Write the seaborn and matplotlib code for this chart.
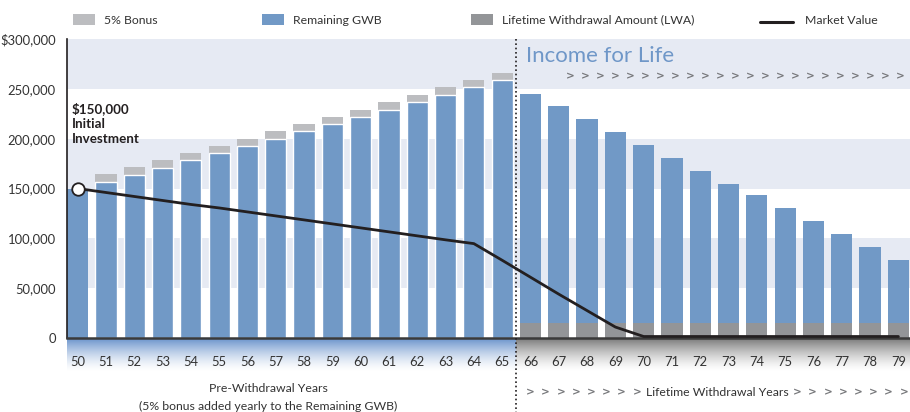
import numpy as np
import pandas as pd
import matplotlib.pyplot as plt
from matplotlib.patches import Rectangle
from matplotlib.lines import Line2D
import seaborn as sns

# values
ages = [50, 51, 52, 53, 54, 55, 56, 57, 58, 59, 60, 61, 62, 63, 64,
        65, 66, 67, 68, 69, 70, 71, 72, 73, 74, 75, 76, 77, 78, 79]
remaining_gwb = [150000, 157000, 164000, 171000, 178500, 185500, 192500, 200000,
                 207500, 214500, 221500, 229000, 236500, 244000, 251500, 258500,
                 245000, 232500, 220000, 207000, 194000, 181000, 168000, 155000,
                 143000, 130000, 117000, 104000, 91000, 78000]
bonus = [0, 7500, 7500, 7500, 7500, 7500, 7500, 7500, 7500, 7500, 7500, 7500, 7500,
         7500, 7500, 7500, 0, 0, 0, 0, 0, 0, 0, 0, 0, 0, 0, 0, 0, 0]
lwa = [0, 0, 0, 0, 0, 0, 0, 0, 0, 0, 0, 0, 0, 0, 0, 0,
       15500, 15500, 15500, 15500, 15500, 15500, 15500, 15500, 15500, 15500,
       15500, 15500, 15500, 15500]
market_value = [150000, 146000, 142000, 138000, 134000, 130500, 126500, 122500,
                 118500, 114500, 110500, 106500, 102500, 98500, 94700, 78000,
                 61000, 44000, 27500, 11000, 1500, 1500, 1500, 1500, 1500, 1500,
                 1500, 1500, 1500, 1500]
ytick_values = [0, 50000, 100000, 150000, 200000, 250000, 300000]
ytick_labels = ['0', '50,000', '100,000', '150,000', '200,000', '250,000', '$300,000']

BLUE = '#7199c6'
BONUS_GRAY = '#bcbdc0'
LWA_GRAY = '#939598'
BAND = '#e6eaf3'
TXT = '#333333'
CHEV = '#77787b'
FS = 8.8

sns.set_style('white')
plt.rcParams['font.family'] = ['Lato', 'DejaVu Sans']

df = pd.DataFrame({'age': [str(a) for a in ages],
                   'gwb': remaining_gwb,
                   'bonus': bonus,
                   'lwa': lwa,
                   'market': market_value})
df['total'] = df['gwb'] + df['bonus']

fig = plt.figure(figsize=(9.1, 4.12), dpi=100)
ax = fig.add_axes([67/910, 1 - 338/412, 843/910, 299/412], zorder=2)

# alternating bands
for lo in [50000, 150000, 250000]:
    ax.axhspan(lo, lo + 50000, color=BAND, lw=0, zorder=0)

sns.barplot(data=df, x='age', y='total', color=BONUS_GRAY, saturation=1,
            width=0.75, errorbar=None, linewidth=0, ax=ax, zorder=2)
sns.barplot(data=df, x='age', y='gwb', color=BLUE, saturation=1,
            width=0.75, errorbar=None, edgecolor='white', linewidth=1, ax=ax, zorder=2)
sns.barplot(data=df, x='age', y='lwa', color=LWA_GRAY, saturation=1,
            width=0.75, errorbar=None, linewidth=0, ax=ax, zorder=2)
# white gap only where a bonus sits on top
for patch, b in zip(ax.containers[1], bonus):
    if b == 0:
        patch.set_linewidth(0)

xpos = np.arange(len(ages))
ax.plot(xpos, df['market'], color='#231f20', lw=2, zorder=4, solid_joinstyle='round')
ax.plot(xpos[:1], df['market'][:1], 'o', ms=9, mfc='white', mec='#231f20', mew=1.3, zorder=5)

ax.set_xlim(-0.375, 29.41)
ax.set_ylim(0, 300000)
ax.set_xlabel('')
ax.set_ylabel('')
ax.set_yticks(ytick_values)
ax.set_yticklabels(ytick_labels, fontsize=9.4, color=TXT)
ax.set_xticks(xpos)
ax.set_xticklabels([str(a) for a in ages], fontsize=9.4, color=TXT)
ax.tick_params(axis='y', length=0, pad=8)
ax.tick_params(axis='x', length=0, pad=13)
for s in ['top', 'right']:
    ax.spines[s].set_visible(False)
ax.spines['left'].set_color('#231f20')
ax.spines['left'].set_linewidth(1.2)
ax.spines['bottom'].set_color('#3a3a3a')
ax.spines['bottom'].set_linewidth(1.8)
ax.spines['bottom'].set_zorder(3)

# dotted divider
ax.plot([15.5, 15.5], [300000, -75000], color='#231f20', lw=1.2,
        ls=(0, (1, 1.6)), clip_on=False, zorder=6)

# gradient strip under the axis
gax = fig.add_axes([67/910, 1 - 372/412, 843/910, 34/412], zorder=1)
h, w = 34, 843
split = 449
t = np.linspace(0, 1, h)[:, None]
fade = (1 - t) ** 1.5
img = np.ones((h, w, 3))
blue_top = np.array([0.42, 0.58, 0.80])
gray_top = np.array([0.48, 0.48, 0.48])
img[:, :split, :] = 1 - fade[:, :, None] * (1 - blue_top)
img[:, split:, :] = 1 - fade[:, :, None] * (1 - gray_top)
gax.imshow(img, aspect='auto', interpolation='bilinear')
gax.set_axis_off()

# annotations
ax.text(-0.22, 237000, '$150,000\nInitial\nInvestment', fontsize=9.6, fontweight='bold',
        color='#231f20', va='top', ha='left', linespacing=1.3, zorder=6)
fig.text(526/910, 1 - 56/412, 'Income for Life', fontsize=16, color='#6f97c8',
         va='center', ha='left')


def chevron(xpx, ypx):
    fig.text(xpx/910, 1 - ypx/412, '>', fontsize=7.5, fontweight='bold',
             family='DejaVu Sans', color=CHEV, va='center', ha='left')


for i in range(23):
    chevron(566 + 15 * i, 76)

fig.text(268/910, 1 - 389/412, 'Pre-Withdrawal Years', fontsize=FS, color=TXT,
         ha='center', va='center')
fig.text(268/910, 1 - 406/412, '(5% bonus added yearly to the Remaining GWB)',
         fontsize=FS, color=TXT, ha='center', va='center')
for i in range(8):
    chevron(526 + 15.2 * i, 392)
    chevron(793 + 15.2 * i, 392)
fig.text(646/910, 1 - 392/412, 'Lifetime Withdrawal Years', fontsize=FS, color=TXT,
         ha='left', va='center')

# legend drawn by hand
legend_items = [(73, BONUS_GRAY, '5% Bonus'),
                (262, BLUE, 'Remaining GWB'),
                (471, LWA_GRAY, 'Lifetime Withdrawal Amount (LWA)')]
for x0, col, lab in legend_items:
    fig.add_artist(Rectangle((x0/910, 1 - 25/412), 22/910, 11/412, color=col,
                             transform=fig.transFigure, lw=0))
    fig.text((x0 + 31)/910, 1 - 20/412, lab, fontsize=FS, color=TXT,
             va='center', ha='left')
fig.add_artist(Line2D([760/910, 793/910], [1 - 22/412, 1 - 22/412], color='#231f20',
                      lw=2.2, transform=fig.transFigure))
fig.text(805/910, 1 - 20/412, 'Market Value', fontsize=FS, color=TXT,
         va='center', ha='left')

fig.savefig('out.png', dpi=100)
